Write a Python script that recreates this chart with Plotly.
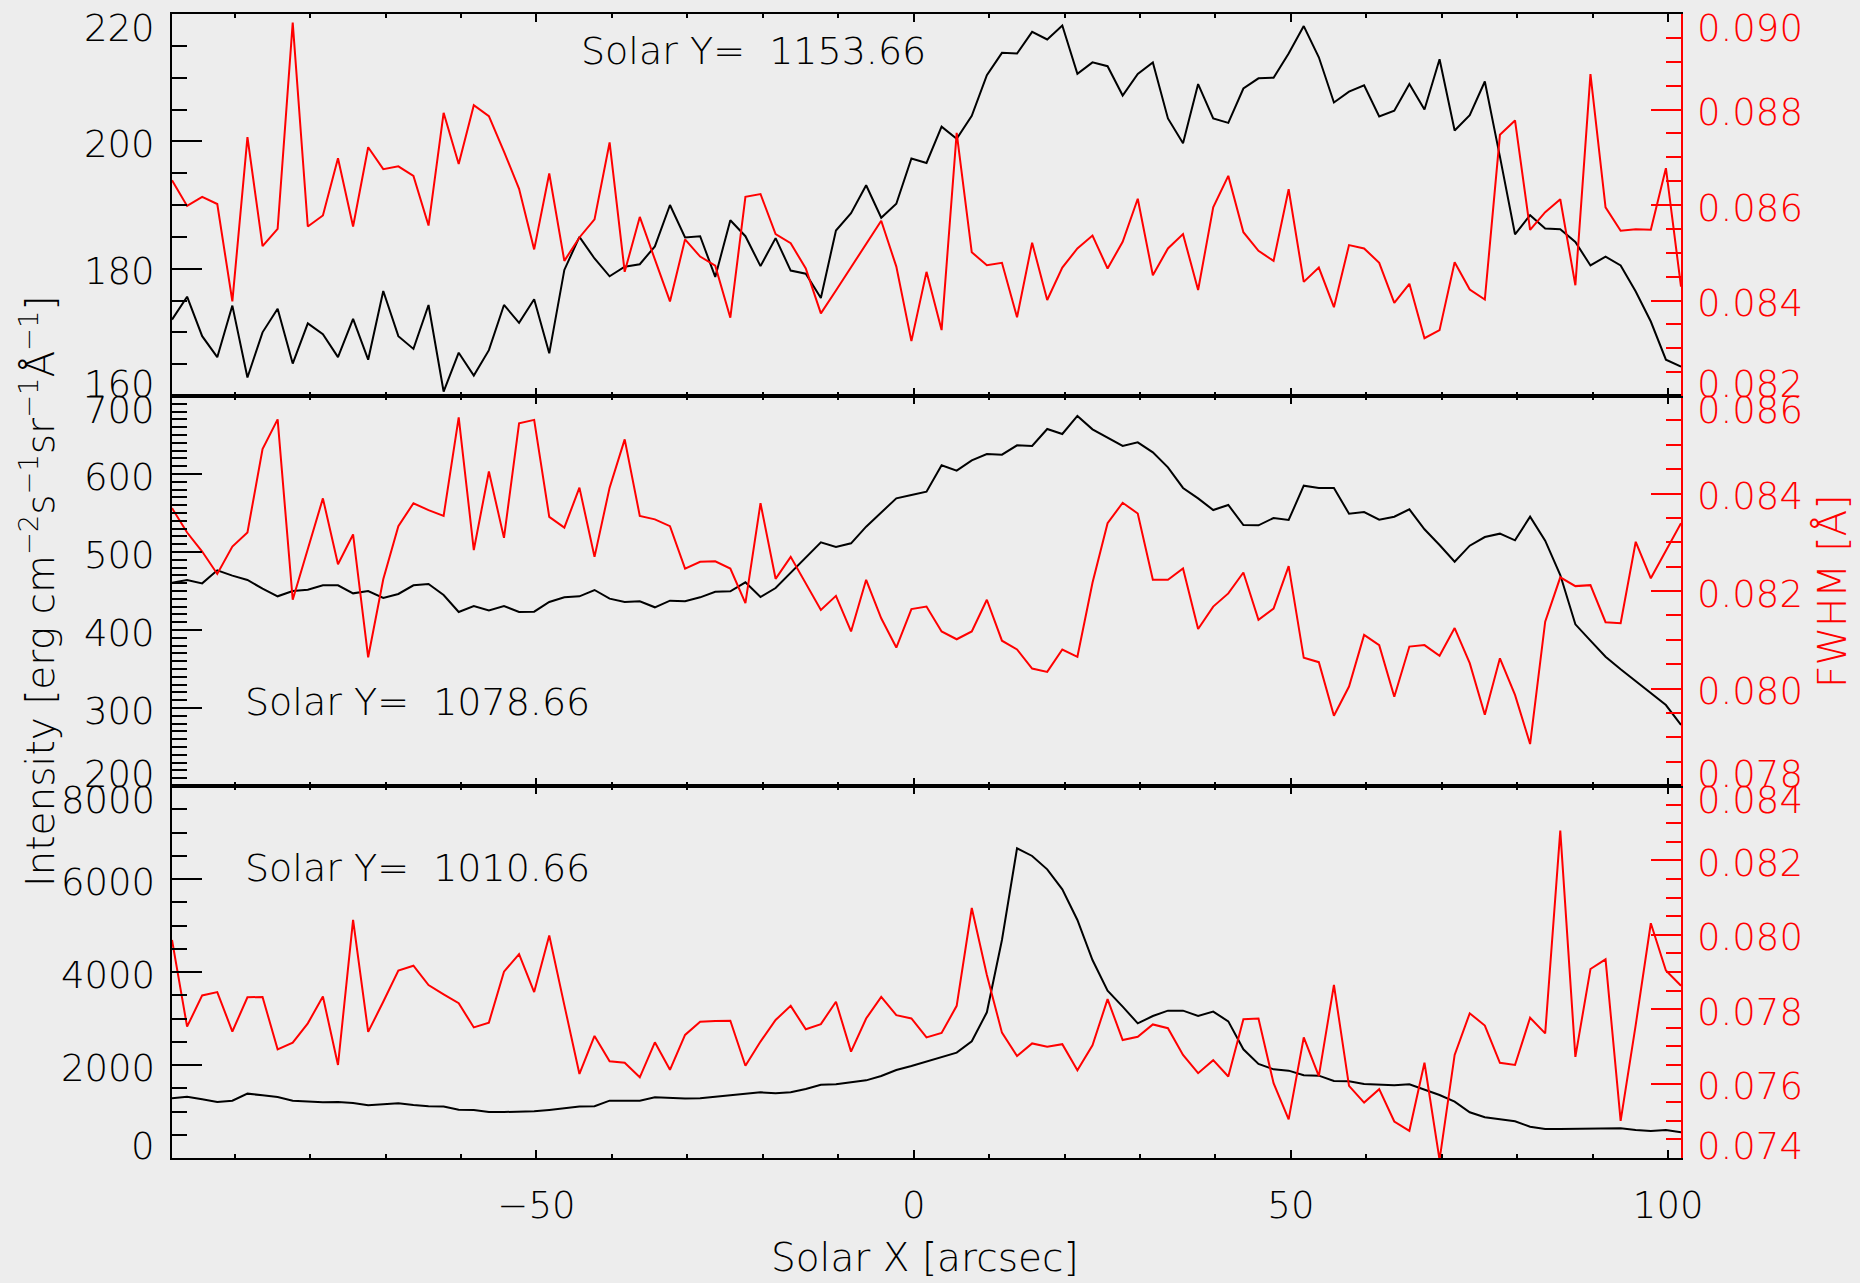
import numpy as np
import plotly.graph_objects as go

# Raster positions along Solar X (arcsec): 101 slit positions, 2" steps
x_start = -98.3
x_step = 2.0
n_pts = 101
solar_x = x_start + x_step * np.arange(n_pts)

# ---- Solar Y = 1153.66 (top panel) ----
int_top = [
    172.0, 175.6, 169.4, 166.1, 174.2, 162.9, 170.0, 173.7, 165.1, 171.4,
    169.7, 166.1, 172.1, 165.7, 176.5, 169.4, 167.4, 174.3, 160.7, 166.8,
    163.2, 167.2, 174.3, 171.5, 175.2, 166.7, 179.8, 185.0, 181.6, 178.8,
    180.3, 180.7, 183.5, 190.0, 184.9, 185.1, 178.7, 187.6, 185.1, 180.4,
    184.8, 179.7, 179.2, 175.4, 186.0, 188.7, 193.1, 188.0, 190.2, 197.3,
    196.6, 202.3, 200.4, 204.0, 210.4, 213.9, 213.8, 217.2, 216.0, 218.2,
    210.6, 212.4, 211.8, 207.2, 210.6, 212.4, 203.6, 199.7, 209.0, 203.6,
    202.9, 208.3, 209.9, 210.0, 213.8, 218.1, 213.2, 206.1, 207.8, 208.8,
    203.9, 204.8, 209.0, 205.0, 212.9, 201.7, 204.1, 209.4, 197.6, 185.4,
    188.4, 186.3, 186.2, 184.2, 180.5, 181.9, 180.5, 176.4, 171.7, 165.7,
    164.6,
]
fwhm_top = [
    0.08652, 0.08598, 0.08617, 0.08602, 0.08398, 0.08742, 0.08514, 0.08550, 0.08982, 0.08555,
    0.08578, 0.08698, 0.08555, 0.08721, 0.08675, 0.08681, 0.08661, 0.08557, 0.08793, 0.08686,
    0.08809, 0.08786, 0.08712, 0.08634, 0.08507, 0.08666, 0.08483, 0.08532, 0.08570, 0.08731,
    0.08460, 0.08575, 0.08486, 0.08398, 0.08528, 0.08492, 0.08473, 0.08364, 0.08617, 0.08623,
    0.08539, 0.08520, 0.08467, 0.08373, 0.08421, 0.08469, 0.08517, 0.08567, 0.08471, 0.08315,
    0.08460, 0.08338, 0.08751, 0.08501, 0.08474, 0.08479, 0.08365, 0.08521, 0.08401, 0.08469,
    0.08509, 0.08536, 0.08467, 0.08523, 0.08613, 0.08453, 0.08509, 0.08539, 0.08422, 0.08595,
    0.08661, 0.08543, 0.08504, 0.08483, 0.08633, 0.08439, 0.08469, 0.08386, 0.08516, 0.08509,
    0.08479, 0.08395, 0.08435, 0.08321, 0.08338, 0.08480, 0.08423, 0.08402, 0.08747, 0.08777,
    0.08548, 0.08585, 0.08612, 0.08432, 0.08874, 0.08595, 0.08546, 0.08549, 0.08548, 0.08677,
    0.08429,
]

# ---- Solar Y = 1078.66 (middle panel) ----
int_mid = [
    460.7, 464.1, 459.8, 476.5, 469.7, 464.1, 453.0, 443.2, 450.0, 451.7,
    457.3, 457.3, 447.0, 450.0, 441.0, 446.2, 457.3, 459.0, 444.9, 423.1,
    430.8, 425.2, 430.8, 423.1, 423.5, 435.9, 441.9, 443.2, 451.3, 440.2,
    435.9, 436.8, 429.1, 437.6, 436.8, 441.9, 449.1, 449.6, 461.1, 442.3,
    453.8, 473.5, 494.0, 512.4, 506.4, 511.1, 532.5, 550.9, 568.8, 573.1,
    577.4, 611.1, 604.3, 617.5, 625.6, 624.8, 636.8, 635.9, 657.7, 651.3,
    674.4, 657.3, 646.6, 635.9, 640.6, 627.8, 608.5, 582.1, 568.8, 553.8,
    560.3, 534.6, 534.2, 543.6, 541.0, 585.0, 582.0, 582.0, 549.1, 551.3,
    541.5, 545.3, 554.7, 529.1, 509.0, 487.6, 508.1, 519.2, 523.5, 515.0,
    545.3, 514.5, 470.5, 407.3, 386.3, 365.8, 349.6, 334.6, 319.7, 303.8,
    278.2,
]
fwhm_mid = [
    0.08370, 0.08320, 0.08281, 0.08235, 0.08291, 0.08320, 0.08491, 0.08552, 0.08182, 0.08285,
    0.08390, 0.08255, 0.08316, 0.08064, 0.08224, 0.08333, 0.08380, 0.08366, 0.08354, 0.08556,
    0.08284, 0.08445, 0.08309, 0.08544, 0.08551, 0.08352, 0.08330, 0.08412, 0.08270, 0.08412,
    0.08511, 0.08354, 0.08347, 0.08333, 0.08246, 0.08260, 0.08261, 0.08246, 0.08175, 0.08380,
    0.08225, 0.08270, 0.08216, 0.08161, 0.08190, 0.08117, 0.08223, 0.08144, 0.08084, 0.08163,
    0.08168, 0.08117, 0.08101, 0.08117, 0.08182, 0.08098, 0.08080, 0.08041, 0.08034, 0.08080,
    0.08065, 0.08217, 0.08339, 0.08381, 0.08359, 0.08223, 0.08223, 0.08246, 0.08122, 0.08168,
    0.08195, 0.08238, 0.08141, 0.08164, 0.08251, 0.08063, 0.08054, 0.07944, 0.08004, 0.08110,
    0.08089, 0.07983, 0.08086, 0.08089, 0.08067, 0.08124, 0.08052, 0.07946, 0.08062, 0.07987,
    0.07886, 0.08137, 0.08228, 0.08210, 0.08212, 0.08136, 0.08134, 0.08301, 0.08226, 0.08283,
    0.08339,
]

# ---- Solar Y = 1010.66 (bottom panel) ----
int_bot = [
    1284, 1319, 1262, 1205, 1233, 1384, 1348, 1312, 1233, 1219,
    1198, 1205, 1183, 1133, 1147, 1176, 1140, 1112, 1105, 1040,
    1033, 990, 990, 990, 1004, 1033, 1068, 1105, 1112, 1233,
    1233, 1233, 1305, 1284, 1277, 1284, 1319, 1355, 1377, 1413,
    1391, 1413, 1484, 1577, 1585, 1628, 1670, 1764, 1893, 1979,
    2072, 2180, 2266, 2509, 3133, 4688, 6660, 6495, 6208, 5778,
    5118, 4258, 3599, 3255, 2896, 3054, 3169, 3169, 3054, 3147,
    2939, 2337, 2022, 1907, 1879, 1778, 1771, 1656, 1649, 1592,
    1585, 1563, 1585, 1463, 1355, 1212, 983, 875, 825, 789,
    674, 624, 624, 624, 624, 624, 638, 603, 581, 603,
    553,
]
fwhm_bot = [
    0.07986, 0.07753, 0.07837, 0.07846, 0.07740, 0.07832, 0.07833, 0.07692, 0.07710, 0.07762,
    0.07834, 0.07650, 0.08040, 0.07739, 0.07820, 0.07904, 0.07917, 0.07865, 0.07840, 0.07816,
    0.07751, 0.07764, 0.07901, 0.07948, 0.07846, 0.07998, 0.07811, 0.07626, 0.07728, 0.07660,
    0.07656, 0.07617, 0.07711, 0.07637, 0.07731, 0.07766, 0.07768, 0.07769, 0.07648, 0.07713,
    0.07771, 0.07809, 0.07746, 0.07760, 0.07820, 0.07686, 0.07775, 0.07833, 0.07784, 0.07775,
    0.07724, 0.07736, 0.07809, 0.08072, 0.07892, 0.07737, 0.07674, 0.07708, 0.07699, 0.07706,
    0.07636, 0.07703, 0.07827, 0.07717, 0.07726, 0.07759, 0.07749, 0.07677, 0.07628, 0.07663,
    0.07619, 0.07773, 0.07775, 0.07601, 0.07504, 0.07724, 0.07620, 0.07865, 0.07594, 0.07549,
    0.07585, 0.07498, 0.07473, 0.07656, 0.07395, 0.07677, 0.07789, 0.07756, 0.07656, 0.07650,
    0.07777, 0.07735, 0.08280, 0.07672, 0.07908, 0.07934, 0.07500, 0.07758, 0.08031, 0.07904,
    0.07863,
]

# Axis ranges and labelled ticks
x_range = [-98.3, 101.7]
top_int_ticks = [160, 180, 200, 220]
mid_int_ticks = [200, 300, 400, 500, 600, 700]
bot_int_ticks = [0, 2000, 4000, 6000, 8000]
top_fwhm_ticks = [0.082, 0.084, 0.086, 0.088, 0.090]
mid_fwhm_ticks = [0.078, 0.080, 0.082, 0.084, 0.086]
bot_fwhm_ticks = [0.074, 0.076, 0.078, 0.080, 0.082, 0.084]

panel_labels = ["Solar Y=\u00a0 1153.66", "Solar Y=\u00a0 1078.66", "Solar Y=\u00a0 1010.66"]

BG = "#ededed"
RED = "#ff0000"
FONT = "DejaVu Sans"
W, H = 1860, 1283
ML, MR, MT, MB = 172, 179, 14, 125
PW, PH = W - ML - MR, H - MT - MB


def py(pix):
    """Pixel row -> paper y."""
    return (H - MB - pix) / PH


def px(pix):
    """Pixel column -> paper x."""
    return (pix - ML) / PW


d_bot = [0, py(786)]
d_mid = [py(786), py(396)]
d_top = [py(396), 1]

fig = go.Figure()

panels = [
    # (x axis, left y, right y, intensity, fwhm)
    ("x", "y", "y2", int_bot, fwhm_bot),
    ("x2", "y3", "y4", int_mid, fwhm_mid),
    ("x3", "y5", "y6", int_top, fwhm_top),
]
for xa, yl, yr, ints, fw in panels:
    fig.add_trace(go.Scatter(x=solar_x, y=ints, xaxis=xa, yaxis=yl, mode="lines",
                             line=dict(color="black", width=2), showlegend=False,
                             hoverinfo="skip"))
    fig.add_trace(go.Scatter(x=solar_x, y=fw, xaxis=xa, yaxis=yr, mode="lines",
                             line=dict(color=RED, width=2), showlegend=False,
                             hoverinfo="skip"))


def xaxis(anchor, labels):
    return dict(
        domain=[0, 1], anchor=anchor, range=x_range,
        tick0=0, dtick=50, ticks="inside", ticklen=8, tickwidth=2, tickcolor="black",
        minor=dict(dtick=10, ticks="inside", ticklen=4, tickwidth=2, tickcolor="black",
                   showgrid=False),
        showline=True, linewidth=2, linecolor="black", mirror="ticks",
        showgrid=False, zeroline=False, showticklabels=labels,
        tickfont=dict(family=FONT, size=37, color="black", weight=300),
        ticklabelstandoff=14,
    )


def yleft(anchor, domain, rng, dtick, minor):
    return dict(
        domain=domain, anchor=anchor, range=rng, dtick=dtick, tick0=0,
        ticks="inside", ticklen=30, tickwidth=2, tickcolor="black",
        minor=dict(dtick=minor, ticks="inside", ticklen=15, tickwidth=2,
                   tickcolor="black", showgrid=False),
        showline=True, linewidth=2, linecolor="black", mirror=False,
        showgrid=False, zeroline=False, showticklabels=False,
    )


def yright(anchor, over, rng):
    return dict(
        anchor=anchor, overlaying=over, side="right", range=rng, dtick=0.002, tick0=0,
        ticks="inside", ticklen=30, tickwidth=2, tickcolor=RED,
        minor=dict(dtick=0.0005, ticks="inside", ticklen=15, tickwidth=2,
                   tickcolor=RED, showgrid=False),
        showline=True, linewidth=2, linecolor=RED,
        showgrid=False, zeroline=False, showticklabels=False,
    )


fig.update_layout(
    width=W, height=H,
    margin=dict(l=ML, r=MR, t=MT, b=MB, pad=0),
    paper_bgcolor=BG, plot_bgcolor=BG,
    font=dict(family=FONT, size=37, color="black", weight=300),
    xaxis=xaxis("y", True),
    xaxis2=xaxis("y3", False),
    xaxis3=xaxis("y5", False),
    yaxis=yleft("x", d_bot, [0, 8000], 2000, 500),
    yaxis2=yright("x", "y", [0.074, 0.084]),
    yaxis3=yleft("x2", d_mid, [200, 700], 100, 10),
    yaxis4=yright("x2", "y3", [0.078, 0.086]),
    yaxis5=yleft("x3", d_top, [160, 220], 20, 5),
    yaxis6=yright("x3", "y5", [0.082, 0.090]),
)

ann = []


def tick_shift(v, ticks):
    # edge labels sit inside the panel, the others just below their tick
    if v == ticks[-1]:
        return -14
    if v == ticks[0]:
        return 12
    return -3


for yref, ticks in (("y", bot_int_ticks), ("y3", mid_int_ticks), ("y5", top_int_ticks)):
    for v in ticks:
        ann.append(dict(text=f"{v:d}", xref="paper", x=0, xanchor="right", xshift=-15,
                        yref=yref, y=v, yanchor="middle", yshift=tick_shift(v, ticks),
                        showarrow=False,
                        font=dict(family=FONT, size=37, color="black", weight=300)))

for yref, ticks in (("y2", bot_fwhm_ticks), ("y4", mid_fwhm_ticks), ("y6", top_fwhm_ticks)):
    for v in ticks:
        ann.append(dict(text=f"{v:.3f}", xref="paper", x=1, xanchor="left", xshift=14,
                        yref=yref, y=v, yanchor="middle", yshift=tick_shift(v, ticks),
                        showarrow=False,
                        font=dict(family=FONT, size=37, color=RED, weight=300)))

# Slit-position labels inside each panel
for text, xp, yp in ((panel_labels[0], 579, 51), (panel_labels[1], 243, 702),
                     (panel_labels[2], 243, 868)):
    ann.append(dict(text=text, xref="paper", x=px(xp), xanchor="left",
                    yref="paper", y=py(yp), yanchor="middle", showarrow=False,
                    font=dict(family=FONT, size=38, color="black", weight=300)))

# Axis titles
ann.append(dict(text="Intensity [erg cm<sup>\u22122</sup>s<sup>\u22121</sup>sr<sup>\u22121</sup>\u00c5<sup>\u22121</sup>]",
                xref="paper", x=px(38), xanchor="center", yref="paper", y=py(591),
                yanchor="middle", textangle=-90, showarrow=False,
                font=dict(family=FONT, size=39, color="black", weight=300)))
ann.append(dict(text="FWHM [\u00c5]", xref="paper", x=px(1832), xanchor="center",
                yref="paper", y=py(592), yanchor="middle", textangle=-90, showarrow=False,
                font=dict(family=FONT, size=39, color=RED, weight=300)))
ann.append(dict(text="Solar X [arcsec]", xref="paper", x=px(925), xanchor="center",
                yref="paper", y=py(1257), yanchor="middle", showarrow=False,
                font=dict(family=FONT, size=39, color="black", weight=300)))

fig.update_layout(annotations=ann)

fig.write_html("out.html")
